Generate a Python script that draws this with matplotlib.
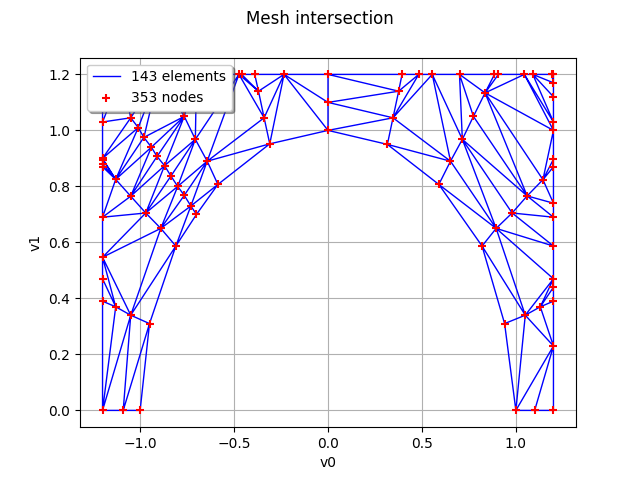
import matplotlib

matplotlib.use("Agg")
import matplotlib.pyplot as plt
import matplotlib.tri as mtri
import numpy as np

# node coordinates
node_x = [
    -1.2, -1.2, -1.2, -1.2, -1.2, -1.2, -1.2, -1.2, -1.2, -1.2, -1.2,
    -1.09, -1.0, -0.95, -0.81, -0.70, -0.586, -0.31, 0.0,
    -1.13, -1.05, -1.05, -0.97, -0.89, -1.13,
    -1.05, -1.01, -0.98, -0.94, -0.91, -0.87, -0.836, -0.80, -0.765, -0.73,
    -0.765, -0.706, -0.643, -0.37, -0.34,
    -1.1, -0.9, -0.7, -0.474, -0.46, -0.39, -0.234, 0.0, 0.0,
    0.394, 0.483, 0.555, 0.70, 0.886, 0.907, 1.045, 1.09, 1.19, 1.2,
    0.376, 0.346, 0.316, 0.836, 0.774, 0.715, 0.652, 0.59,
    1.144, 1.06, 0.98, 0.895, 0.82,
    1.2, 1.2, 1.2, 1.2, 1.2, 1.2, 1.2, 1.2, 1.2,
    1.2, 1.2, 1.2, 1.2, 1.2, 1.1, 1.0, 0.94, 1.05, 1.13,
]
node_y = [
    0.0, 0.39, 0.47, 0.547, 0.69, 0.87, 0.88, 0.896, 1.03, 1.2, 0.9,
    0.0, 0.0, 0.31, 0.587, 0.70, 0.807, 0.952, 1.0,
    0.37, 0.34, 0.765, 0.705, 0.65, 0.825,
    1.045, 1.01, 0.975, 0.94, 0.907, 0.874, 0.837, 0.80, 0.768, 0.73,
    1.05, 0.968, 0.89, 1.14, 1.045,
    1.2, 1.2, 1.2, 1.2, 1.2, 1.2, 1.2, 1.2, 1.1,
    1.2, 1.2, 1.2, 1.2, 1.2, 1.2, 1.2, 1.2, 1.2, 1.2,
    1.14, 1.045, 0.95, 1.134, 1.05, 0.968, 0.89, 0.807,
    0.824, 0.766, 0.705, 0.65, 0.587,
    1.17, 1.12, 1.03, 1.0, 0.897, 0.87, 0.74, 0.69, 0.587,
    0.47, 0.44, 0.39, 0.23, 0.0, 0.0, 0.0, 0.31, 0.34, 0.37,
]

x = np.array(node_x)
y = np.array(node_y)
tri = mtri.Triangulation(x, y)
cx = x[tri.triangles].mean(axis=1)
cy = y[tri.triangles].mean(axis=1)
tri.set_mask(np.hypot(cx, cy) < 0.999)

fig, ax = plt.subplots(figsize=(6.4, 4.8), dpi=100)
fig.suptitle("Mesh intersection")
ax.triplot(tri, color="blue", linewidth=1.0, label="143 elements")
ax.scatter(x, y, marker="+", color="red", s=40, zorder=3, label="353 nodes")
ax.set_xlabel("v0")
ax.set_ylabel("v1")
ax.grid(True)
ax.set_axisbelow(True)
handles, labels = ax.get_legend_handles_labels()
ax.legend(handles[:1] + handles[-1:], labels[:1] + labels[-1:], loc="upper left",
          shadow=True, fancybox=True)
fig.savefig("out.png")
